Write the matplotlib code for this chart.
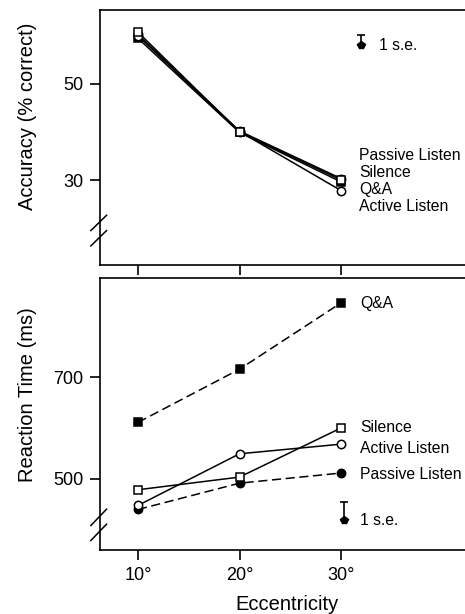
import numpy as np
import matplotlib
matplotlib.use("Agg")
import matplotlib.pyplot as plt

plt.rcParams['font.family'] = ['Liberation Sans', 'DejaVu Sans']

ecc = [10, 20, 30]
ecc_labels = ['10°', '20°', '30°']
conditions = ['Passive Listen', 'Silence', 'Q&A', 'Active Listen']

# accuracy (% correct)
acc_passive = [60.3, 40.2, 30.3]
acc_silence = [60.8, 40.0, 30.0]
acc_qa = [59.5, 39.9, 29.6]
acc_active = [60.0, 40.1, 27.8]
acc_se = 2.1

# reaction time (ms)
rt_passive = [439, 491, 511]
rt_silence = [478, 503, 600]
rt_qa = [611, 716, 847]
rt_active = [447, 549, 568]
rt_se = 35

fig = plt.figure(figsize=(4.65, 6.14), dpi=100)
ax1 = fig.add_axes([0.215, 0.5684, 0.785, 0.4153])
ax2 = fig.add_axes([0.215, 0.1042, 0.785, 0.4430])

styles = {
    'Passive Listen': dict(marker='o', mfc='black', ls='--'),
    'Silence': dict(marker='s', mfc='white', ls='-'),
    'Q&A': dict(marker='s', mfc='black', ls='--'),
    'Active Listen': dict(marker='o', mfc='white', ls='-'),
}
ms = {'o': 6, 's': 5.5}

acc = {'Passive Listen': acc_passive, 'Silence': acc_silence,
       'Q&A': acc_qa, 'Active Listen': acc_active}
rt = {'Passive Listen': rt_passive, 'Silence': rt_silence,
      'Q&A': rt_qa, 'Active Listen': rt_active}

# top panel: filled markers first, open ones drawn over
for c in ['Q&A', 'Passive Listen', 'Active Listen', 'Silence']:
    st = styles[c]
    ax1.plot(ecc, acc[c], color='black', lw=1.1, ls='-', marker=st['marker'],
             mfc=st['mfc'], mec='black', mew=1.1, ms=ms[st['marker']])

for c in ['Q&A', 'Passive Listen', 'Silence', 'Active Listen']:
    st = styles[c]
    ax2.plot(ecc, rt[c], color='black', lw=1.1, ls=st['ls'], dashes=(6, 3) if st['ls'] == '--' else (None, None),
             marker=st['marker'], mfc=st['mfc'], mec='black', mew=1.1,
             ms=ms[st['marker']])

fs = 11.3
# labels top panel
for i, c in enumerate(conditions):
    ax1.text(31.8, 35.0 - i * 3.5, c, fontsize=fs, va='center', ha='left')

# labels bottom panel
ax2.text(31.9, 846, 'Q&A', fontsize=fs, va='center')
ax2.text(31.9, 601, 'Silence', fontsize=fs, va='center')
ax2.text(31.9, 560, 'Active Listen', fontsize=fs, va='center')
ax2.text(31.9, 509, 'Passive Listen', fontsize=fs, va='center')

# standard error markers
ax1.errorbar([32.0], [58.1], yerr=[[0], [acc_se]], fmt='p', color='black',
             ms=6, capsize=3, elinewidth=1.2, capthick=1.2)
ax1.text(33.7, 58.1, '1 s.e.', fontsize=fs, va='center')
ax2.errorbar([30.3], [418], yerr=[[0], [rt_se]], fmt='p', color='black',
             ms=6, capsize=3, elinewidth=1.2, capthick=1.2)
ax2.text(31.9, 418, '1 s.e.', fontsize=fs, va='center')

for ax in (ax1, ax2):
    ax.set_xlim(6.26, 42.2)
    ax.spines['right'].set_visible(False)
    for s in ['left', 'top', 'bottom']:
        ax.spines[s].set_linewidth(1.2)
    ax.tick_params(direction='out', length=7, width=1.2, labelsize=13, pad=5)
    ax.set_xticks(ecc)

ax1.set_ylim(12.3, 65.4)
ax1.set_yticks([30, 50])
ax1.set_xticklabels([])
ax1.set_ylabel('Accuracy (% correct)', fontsize=14.5)
ax1.yaxis.set_label_coords(-0.173, 0.584)

ax2.set_ylim(359, 896)
ax2.set_yticks([500, 700])
ax2.set_xticklabels(ecc_labels)
ax2.set_ylabel('Reaction Time (ms)', fontsize=14.5)
ax2.yaxis.set_label_coords(-0.173, 0.57)
ax2.set_xlabel('Eccentricity', fontsize=14.5)
ax2.xaxis.set_label_coords(0.512, -0.165)

# axis break marks on the left spines
def break_marks(ax, y0, y1):
    for yy in (y0, y1):
        ax.plot([-0.025, 0.018], [yy - 0.03, yy + 0.03], transform=ax.transAxes,
                color='black', lw=1.1, clip_on=False)

break_marks(ax1, 0.105, 0.165)
break_marks(ax2, 0.065, 0.12)

fig.savefig('out.png', dpi=100)
